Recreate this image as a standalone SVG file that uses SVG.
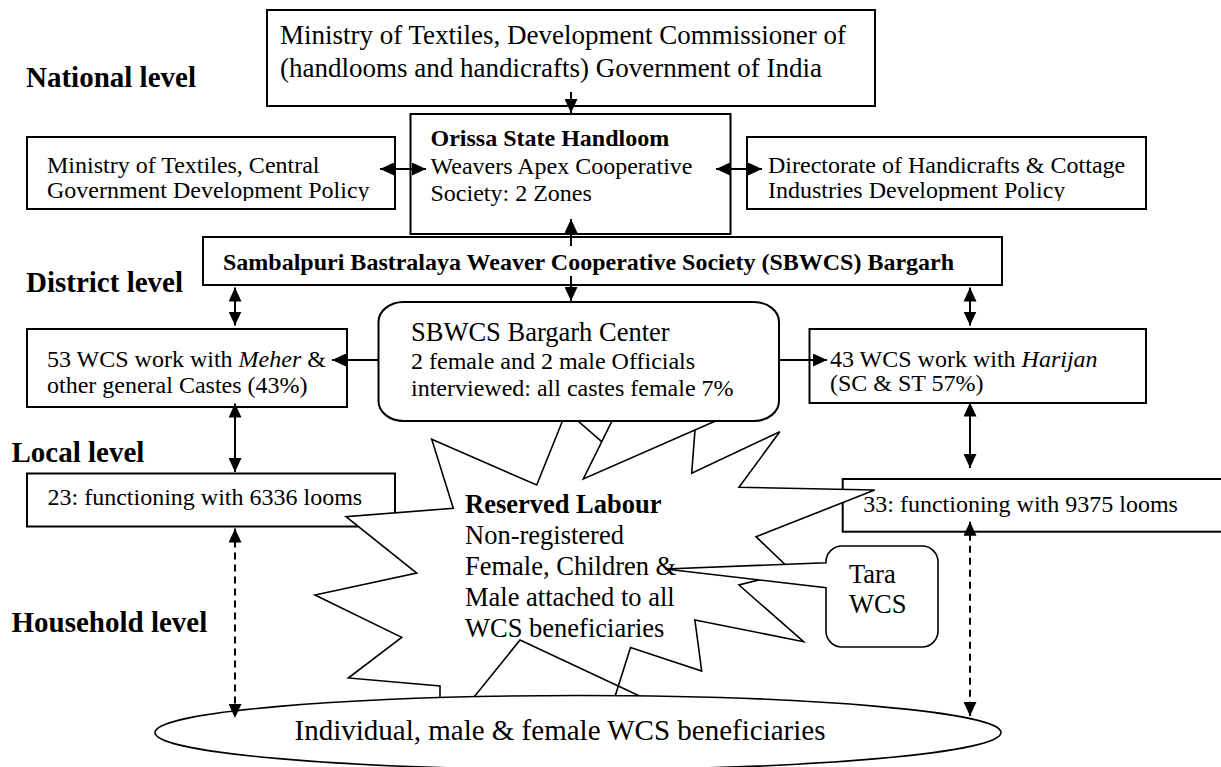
<svg xmlns="http://www.w3.org/2000/svg" width="1221" height="767" viewBox="0 0 1221 767">
<style>
text{font-family:"Liberation Serif","Times New Roman",serif;fill:#000}
.lvl{font-weight:bold;font-size:29px}
.t27{font-size:27px}
.t24{font-size:24px}
.t26{font-size:26.5px}
.b24{font-size:24px;font-weight:bold}
.b26{font-size:26.5px;font-weight:bold}
.box{fill:#fff;stroke:#000;stroke-width:2}
.shape{fill:#fff;stroke:#000;stroke-width:1.6}
.con{stroke:#000;stroke-width:2;fill:none}
.dash{stroke-dasharray:7 5}
</style>
<defs>
<marker id="ah" viewBox="0 0 14 13" refX="14" refY="6.5" markerWidth="14" markerHeight="13" markerUnits="userSpaceOnUse" orient="auto-start-reverse">
<path d="M0,0 L14,6.5 L0,13 z" fill="#000" stroke="none"/>
</marker>
<clipPath id="clipL"><rect x="27" y="138" width="367" height="63"/></clipPath>
<clipPath id="clipR"><rect x="748" y="138" width="397" height="63"/></clipPath>
</defs>

<g id="levels">
<text class="lvl" x="26" y="87">National level</text>
<text class="lvl" x="26" y="292">District level</text>
<text class="lvl" x="11.5" y="462">Local level</text>
<text class="lvl" x="11.5" y="632">Household level</text>
</g>

<g id="ministry-top">
<rect class="box" x="267" y="10" width="608" height="96"/>
<text class="t27" x="280" y="44">Ministry of Textiles, Development Commissioner of</text>
<text class="t27" x="280" y="77">(handlooms and handicrafts) Government of India</text>
</g>

<g id="orissa">
<rect class="box" x="410.5" y="114" width="320" height="120"/>
<text class="b24" x="430.5" y="145.5">Orissa State Handloom</text>
<text class="t24" x="430.5" y="174">Weavers Apex Cooperative</text>
<text class="t24" x="430.5" y="200.5">Society: 2 Zones</text>
</g>

<g id="ministry-central">
<rect class="box" x="27" y="137" width="368" height="72"/>
<g clip-path="url(#clipL)">
<text class="t24" x="47" y="172.5">Ministry of Textiles, Central</text>
<text class="t24" x="47" y="198">Government Development Policy</text>
</g>
</g>

<g id="directorate">
<rect class="box" x="747" y="137" width="399" height="72"/>
<g clip-path="url(#clipR)">
<text class="t24" x="768" y="172.5">Directorate of Handicrafts &amp; Cottage</text>
<text class="t24" x="768" y="198">Industries Development Policy</text>
</g>
</g>

<g id="sbwcs">
<rect class="box" x="203" y="237" width="799" height="48"/>
<text class="b24" x="223" y="270">Sambalpuri Bastralaya Weaver Cooperative Society (SBWCS) Bargarh</text>
</g>

<g id="wcs53">
<rect class="box" x="27" y="329" width="320" height="78"/>
<text class="t24" x="47" y="367">53 WCS work with <tspan font-style="italic">Meher</tspan> &amp;</text>
<text class="t24" x="47" y="393">other general Castes (43%)</text>
</g>

<g id="wcs43">
<rect class="box" x="809.5" y="329" width="336.5" height="74"/>
<text class="t24" x="830" y="367">43 WCS work with <tspan font-style="italic">Harijan</tspan></text>
<text class="t24" x="830" y="391">(SC &amp; ST 57%)</text>
</g>

<g id="local23">
<rect class="box" x="27" y="473.5" width="368" height="53"/>
<text class="t24" x="47.5" y="505">23: functioning with 6336 looms</text>
</g>

<g id="local33">
<rect class="box" x="842.7" y="479" width="400" height="52.7"/>
<text class="t24" x="863.3" y="511.7">33: functioning with 9375 looms</text>
</g>

<g id="reserved-labour">
<polygon class="shape" points="431.7,439.3 536.7,485 566.5,411 601.7,441.7 620,405 583.3,479 728,415.5 695,430 691.7,473.3 779.8,431.7 739,487.3 874.7,490 756,536.7 792.3,571.5 739,585 803.6,641.7 694.9,620 701.7,671 630.5,647.5 612,706 662,706.5 520,640 468,704.5 440,705 440,686 348.3,678 401.7,637.3 315,595 416.7,573 346,516.7 453.3,508.3"/>
<text class="b26" x="465" y="513.3">Reserved Labour</text>
<text class="t26" x="465" y="544">Non-registered</text>
<text class="t26" x="465" y="575">Female, Children &amp;</text>
<text class="t26" x="465" y="606">Male attached to all</text>
<text class="t26" x="465" y="636.5">WCS beneficiaries</text>
</g>

<g id="beneficiaries">
<ellipse class="shape" cx="578" cy="732.5" rx="423" ry="37"/>
<text style="font-size:29px" x="294.5" y="740">Individual, male &amp; female WCS beneficiaries</text>
</g>

<g id="sbwcs-center">
<path class="box" d="M403.5,302 H754 A25,20 0 0 1 779,322 V401 A25,20 0 0 1 754,421 H403.5 A25,20 0 0 1 378.5,401 V322 A25,20 0 0 1 403.5,302 Z"/>
<text class="t26" x="411" y="340.7">SBWCS Bargarh Center</text>
<text class="t24" x="411" y="368.7">2 female and 2 male Officials</text>
<text class="t24" x="411" y="396">interviewed: all castes female 7%</text>
</g>

<g id="tara">
<path class="shape" d="M842,546 H922 A16,16 0 0 1 938,562 V631 A16,16 0 0 1 922,647 H842 A16,16 0 0 1 826,631 V587.7 L665,569 L826,562.7 V562 A16,16 0 0 1 842,546 Z"/>
<text class="t26" x="849" y="583">Tara</text>
<text class="t26" x="849" y="613">WCS</text>
</g>

<g id="connectors">
<line class="con" x1="571" y1="92" x2="571" y2="113" marker-end="url(#ah)"/>
<line class="con" x1="571" y1="246" x2="571" y2="219" marker-end="url(#ah)"/>
<line class="con" x1="571" y1="276" x2="571" y2="301" marker-end="url(#ah)"/>
<line class="con" x1="380" y1="169" x2="426" y2="169" marker-start="url(#ah)" marker-end="url(#ah)"/>
<line class="con" x1="716" y1="169" x2="762" y2="169" marker-start="url(#ah)" marker-end="url(#ah)"/>
<line class="con" x1="235" y1="287.5" x2="235" y2="325.5" marker-start="url(#ah)" marker-end="url(#ah)"/>
<line class="con" x1="970" y1="287.5" x2="970" y2="325.5" marker-start="url(#ah)" marker-end="url(#ah)"/>
<line class="con" x1="378.5" y1="360" x2="332" y2="360" marker-end="url(#ah)"/>
<line class="con" x1="779" y1="360" x2="827" y2="360" marker-end="url(#ah)"/>
<line class="con" x1="235" y1="403.5" x2="235" y2="472" marker-start="url(#ah)" marker-end="url(#ah)"/>
<line class="con" x1="970" y1="402.5" x2="970" y2="468" marker-start="url(#ah)" marker-end="url(#ah)"/>
<line class="con dash" x1="235" y1="528.5" x2="235" y2="718" marker-start="url(#ah)" marker-end="url(#ah)"/>
<line class="con dash" x1="970" y1="521.7" x2="970" y2="716" marker-start="url(#ah)" marker-end="url(#ah)"/>
</g>
</svg>
